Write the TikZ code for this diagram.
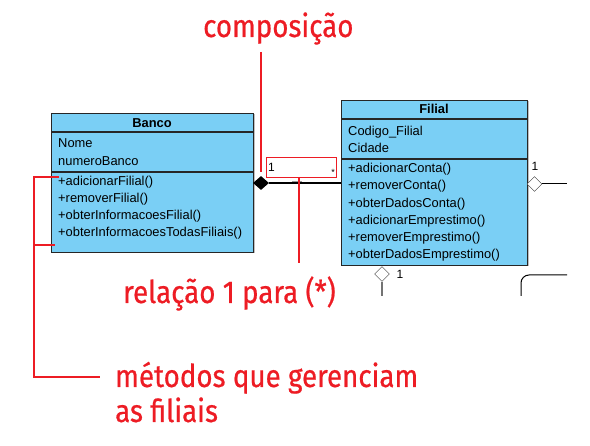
\documentclass[tikz,border=0pt]{standalone}
\usepackage{fontspec}
\setmainfont{Liberation Sans}
\newfontfamily\notefont[FakeStretch=0.88,FakeBold=0.6]{Fira Sans}
\usetikzlibrary{shapes.geometric}
\definecolor{classblue}{RGB}{122,207,245}
\definecolor{notered}{RGB}{237,28,36}
\tikzset{
  classbox/.style={draw=black!85,fill=classblue,line width=1.2pt,inner sep=0pt,anchor=north west},
  umltext/.style={anchor=base west,inner sep=0pt,font=\fontsize{12.9}{14}\selectfont},
  umltitle/.style={anchor=base,inner sep=0pt,font=\fontsize{12.9}{14}\selectfont\bfseries},
  multtext/.style={anchor=base,inner sep=0pt,font=\fontsize{12}{14}\selectfont},
  notetext/.style={anchor=base west,inner sep=0pt,text=notered,font=\fontsize{31.5}{35}\selectfont\notefont},
  noteline/.style={draw=notered,line width=1.3pt},
}
\begin{document}
\begin{tikzpicture}[x=1pt,y=-1pt]
        \useasboundingbox (0,0) rectangle (590,446);
        % classes
        \fill[black!25] (52.5,114.5) rectangle (254.5,253.5);
        \node[classbox,minimum width=202pt,minimum height=139pt] (banco) at (51,113) {};
        \draw[line width=1.2pt,draw=black!85]
            (51,132) -- (253,132)
            (51,172) -- (253,172);
        \node[umltitle] (bancotitle) at (152,127.5) {Banco};
        \node[umltext] (bancoa1) at (58,148) {Nome};
        \node[umltext] (bancoa2) at (58,166) {numeroBanco};
        \node[umltext] (bancom1) at (58,186) {+adicionarFilial()};
        \node[umltext] (bancom2) at (58,203) {+removerFilial()};
        \node[umltext] (bancom3) at (58,220) {+obterInformacoesFilial()};
        \node[umltext] (bancom4) at (58,237) {+obterInformacoesTodasFiliais()};
        %
        \fill[black!25] (342.5,101.5) rectangle (528.5,266.5);
        \node[classbox,minimum width=186pt,minimum height=165pt] (filial) at (341,100) {};
        \draw[line width=1.2pt,draw=black!85]
            (341,119) -- (527,119)
            (341,159) -- (527,159);
        \node[umltitle] (filialtitle) at (434,114) {Filial};
        \node[umltext] (filiala1) at (348,135.5) {Codigo\_Filial};
        \node[umltext] (filiala2) at (348,152.5) {Cidade};
        \node[umltext] (filialm1) at (348,173) {+adicionarConta()};
        \node[umltext] (filialm2) at (348,190) {+removerConta()};
        \node[umltext] (filialm3) at (348,207.5) {+obterDadosConta()};
        \node[umltext] (filialm4) at (348,225) {+adicionarEmprestimo()};
        \node[umltext] (filialm5) at (348,242) {+removerEmprestimo()};
        \node[umltext] (filialm6) at (348,259) {+obterDadosEmprestimo()};
        % associations
        \node[diamond,fill=black,inner sep=0pt,minimum width=16pt,minimum height=14pt] (comp) at (261,183) {};
        \draw[line width=1.2pt,draw=black!40] (292,181.5) -- (302,181.5);
        \draw[line width=1.2pt] (comp.east) -- (comp.east -| filial.west);
        \node[draw=black!80,fill=white,diamond,inner sep=0pt,minimum width=15pt,minimum height=15pt] (aggright) at (534.5,184) {};
        \coordinate (rightend) at (567,184);
        \draw[line width=1pt] (aggright.east) -- (rightend);
        \node[multtext] (multright) at (535,171) {1};
        \node[draw=black!80,fill=white,diamond,inner sep=0pt,minimum width=15pt,minimum height=15pt] (aggdown) at (382,274) {};
        \coordinate (downend) at (382,296);
        \draw[line width=1.5pt,draw=black!55] (aggdown.south) -- (downend);
        \node[multtext] (multdown) at (400,279) {1};
        \draw[line width=1pt,rounded corners=8pt] (521,296) -- (521,275) -- (567,275);
        % notes
        \node[draw=notered,line width=1.3pt,inner sep=0pt,minimum width=70pt,minimum height=20pt,anchor=north west] (multbox) at (266,157) {};
        \node[multtext,anchor=base west] (multone) at (268,172) {1};
        \node[multtext,anchor=base east,font=\fontsize{9}{10}\selectfont] (multmany) at (335,176) {*};
        \node[notetext] (lblcomp) at (203,37) {composição};
        \node[notetext] (lblrel) at (123,303) {relação 1 para (*)};
        \node[notetext] (lblmet1) at (115,387) {métodos que gerenciam};
        \node[notetext] (lblmet2) at (115,422) {as filiais};
        \draw[noteline] (261,52) -- (261,172);
        \draw[noteline] (299,177) -- (299,263);
        \draw[noteline]
            (59,177) -- (34,177) -- (34,377) -- (100,377)
            (34,245) -- (55,245);
    \end{tikzpicture}
\end{document}
